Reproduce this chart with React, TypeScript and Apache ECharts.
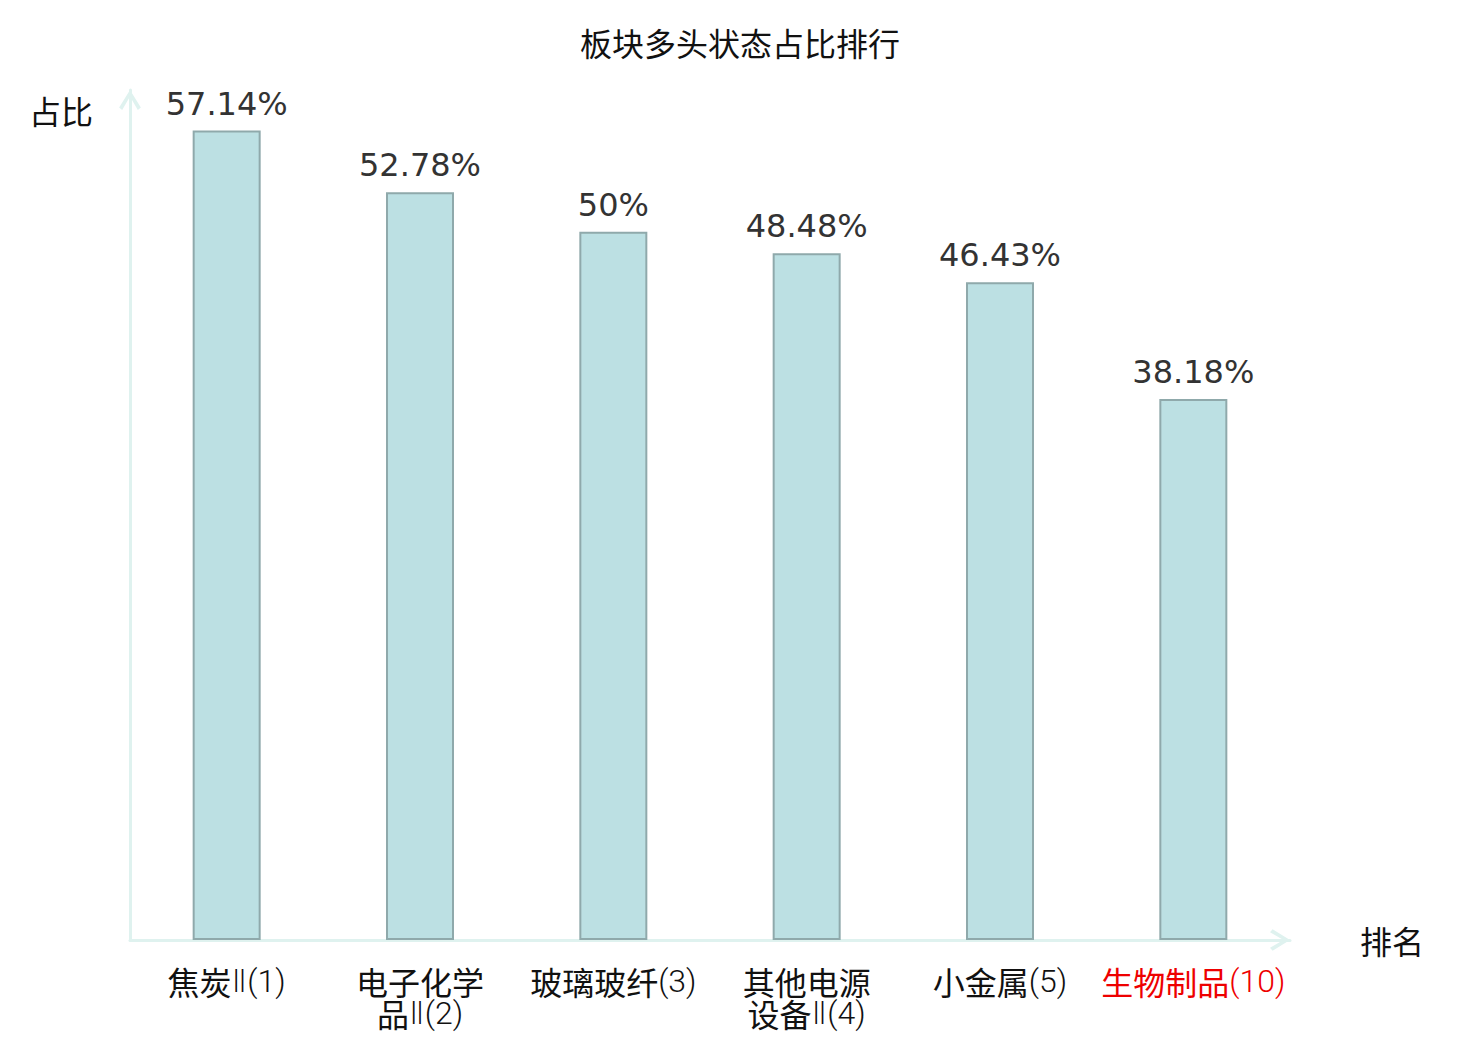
import React, { useEffect, useRef } from "react";
import * as echarts from "echarts";

const TITLE = "板块多头状态占比排行";
const SECTORS = ["焦炭", "电子化学品", "玻璃玻纤", "其他电源设备", "小金属", "生物制品"];
const SUFFIX = ["Ⅱ", "Ⅱ", "", "Ⅱ", "", ""];
const RANKS = [1, 2, 3, 4, 5, 10];
const RATIOS = [57.14, 52.78, 50, 48.48, 46.43, 38.18];
const HIGHLIGHT_INDEX = 5;
const Y_NAME = "占比";
const X_NAME = "排名";

export default function App() {
  const ref = useRef<HTMLDivElement>(null);
  useEffect(() => {
    document.body.style.margin = "0";
    if (!ref.current) return;
    const chart = echarts.init(ref.current, null, { renderer: "svg" });
    const axisColor = "#dff2ef";
    const arrowPath = "path://M0,80 L50,0 L100,80 L86,92 L50,30 L14,92 Z";
    const cjk = "Noto Sans CJK SC";
    const cats = SECTORS.map((s, i) => ({
      value: String(i),
      textStyle: i === HIGHLIGHT_INDEX ? { color: "#ee0000" } : undefined,
    }));
    const labelFor = (idx: number): string => {
      const name = SECTORS[idx];
      const tail = "{l|" + SUFFIX[idx] + "(" + RANKS[idx] + ")}";
      if (name.length > 4) {
        return "{c|" + name.slice(0, 4) + "}\n{c|" + name.slice(4) + "}" + tail;
      }
      return "{c|" + name + "}" + tail;
    };
    chart.setOption({
      animation: false,
      backgroundColor: "#ffffff",
      title: {
        text: TITLE,
        left: "center",
        top: 26,
        padding: 0,
        textStyle: {
          fontFamily: cjk,
          fontSize: 32,
          fontWeight: "normal",
          color: "#111",
        },
      },
      grid: { left: 130, right: 190, top: 90, bottom: 100, containLabel: false },
      xAxis: {
        type: "category",
        data: cats,
        name: X_NAME,
        nameLocation: "end",
        nameGap: 70,
        nameTextStyle: { fontFamily: cjk, fontSize: 32, color: "#111" },
        axisLine: {
          show: true,
          lineStyle: { color: axisColor, width: 3 },
          symbol: ["none", arrowPath],
          symbolSize: [22, 20],
          symbolOffset: [0, -10],
        },
        axisTick: { show: false },
        axisLabel: {
          interval: 0,
          margin: 25,
          fontFamily: cjk,
          fontSize: 32,
          lineHeight: 32,
          color: "#111",
          formatter: (v: string) => labelFor(Number(v)),
          rich: {
            c: { fontFamily: cjk, fontSize: 32, lineHeight: 32 },
            l: { fontFamily: "Roboto, DejaVu Sans", fontWeight: 300, fontSize: 32, lineHeight: 32 },
          },
        },
        splitLine: { show: false },
      },
      yAxis: {
        type: "value",
        min: 0,
        max: 60,
        name: Y_NAME,
        nameLocation: "end",
        nameGap: -20,
        nameTextStyle: {
          fontFamily: cjk,
          fontSize: 32,
          color: "#111",
          align: "right",
          verticalAlign: "middle",
          padding: [0, 37, 0, 0],
        },
        axisLine: {
          show: true,
          lineStyle: { color: axisColor, width: 3 },
          symbol: ["none", arrowPath],
          symbolSize: [22, 20],
          symbolOffset: [0, -10],
        },
        axisTick: { show: false },
        axisLabel: { show: false },
        splitLine: { show: false },
      },
      series: [
        {
          type: "bar",
          data: RATIOS,
          barWidth: 68,
          itemStyle: { color: "#bce0e3", borderColor: "#8fa9ab", borderWidth: 2 },
          label: {
            show: true,
            position: "top",
            distance: 11,
            formatter: (p: any) => p.value + "%",
            fontFamily: "DejaVu Sans",
            fontSize: 32,
            color: "#333",
          },
        },
      ],
    });
    return () => chart.dispose();
  }, []);
  return <div ref={ref} style={{ width: 1480, height: 1040 }} />;
}
